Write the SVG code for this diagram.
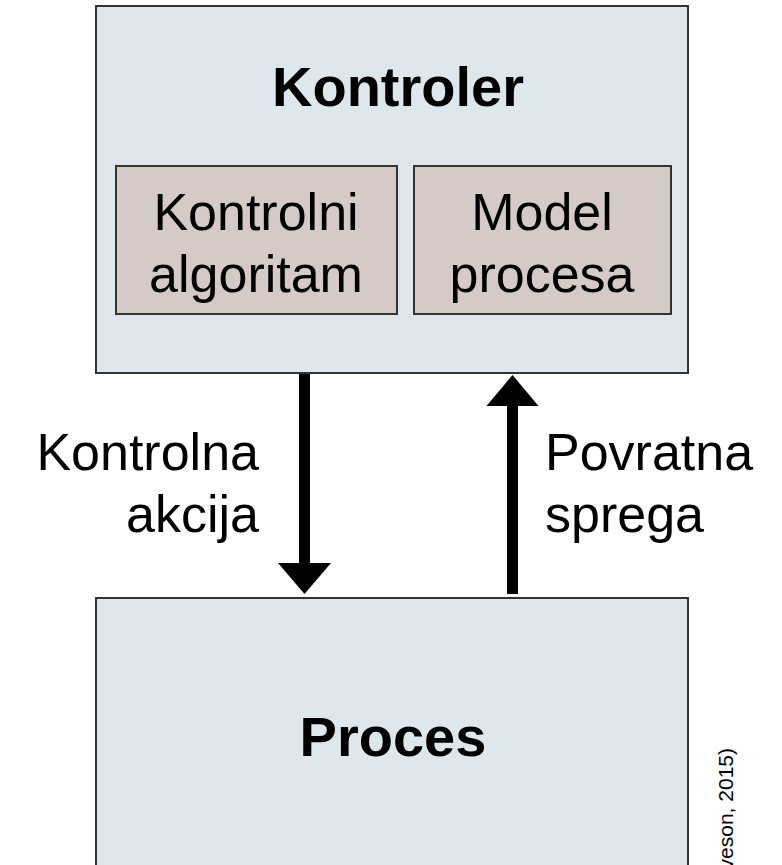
<svg xmlns="http://www.w3.org/2000/svg" width="782" height="865" viewBox="0 0 782 865">
<style>
.box{fill:#dde7ec;stroke:#333;stroke-width:2}
.inner{fill:#d5cac6;stroke:#333;stroke-width:2}
.t{font-family:"Liberation Sans",Arial,sans-serif;fill:#000}
.b{font-weight:bold;font-size:56px;text-anchor:middle}
.n{font-size:52px}
</style>
<rect x="0" y="0" width="782" height="865" fill="#fff"/>
<g id="kontroler">
<rect class="box" x="96" y="6" width="592" height="367"/>
<text class="t b" x="398" y="106">Kontroler</text>
</g>
<g id="kontrolni-algoritam">
<rect class="inner" x="116" y="166" width="281" height="148"/>
<text class="t n" x="256" y="230" text-anchor="middle">Kontrolni</text>
<text class="t n" x="256" y="292" text-anchor="middle">algoritam</text>
</g>
<g id="model-procesa">
<rect class="inner" x="414" y="166" width="257" height="148"/>
<text class="t n" x="542" y="230" text-anchor="middle">Model</text>
<text class="t n" x="542" y="292" text-anchor="middle">procesa</text>
</g>
<g id="proces">
<rect class="box" x="96" y="598" width="592" height="300"/>
<text class="t b" x="393" y="756">Proces</text>
</g>
<g id="connectors">
<g id="kontrolna-akcija">
<rect x="299" y="374" width="11" height="190" fill="#000"/>
<polygon points="278,563 331,563 304.5,594" fill="#000"/>
<text class="t n" x="259" y="470" text-anchor="end">Kontrolna</text>
<text class="t n" x="259" y="532" text-anchor="end">akcija</text>
</g>
<g id="povratna-sprega">
<rect x="507" y="405" width="11" height="189" fill="#000"/>
<polygon points="486.5,406 538.5,406 512.5,375" fill="#000"/>
<text class="t n" x="545" y="470">Povratna</text>
<text class="t n" x="545" y="532">sprega</text>
</g>
</g>
<text class="t" font-size="21" text-anchor="end" transform="translate(733,748) rotate(-90)" x="0" y="0">(Leveson, 2015)</text>
</svg>
